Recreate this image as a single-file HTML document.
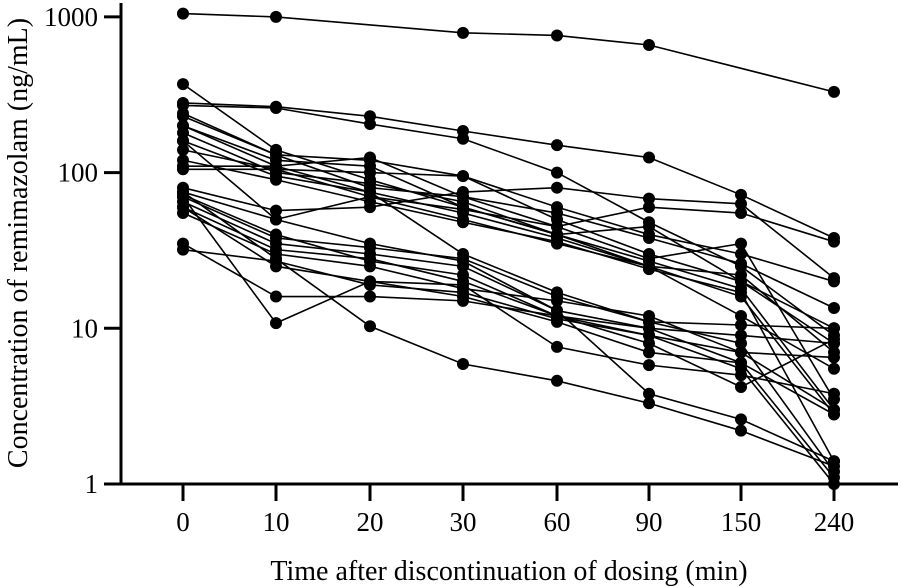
<!DOCTYPE html>
<html><head><meta charset="utf-8">
<style>
html,body{margin:0;padding:0;background:#fff;}
svg{display:block;font-family:"Liberation Serif",serif;}
</style></head>
<body>
<svg id="chart" width="901" height="587" viewBox="0 0 901 587">
  <g id="series"></g>
  <g id="axes"></g>
</svg>
<script>
const categories = ["0","10","20","30","60","90","150","240"];
const yTicks = [1,10,100,1000];
const yTickLabels = ["1","10","100","1000"];
const subjects = [
[1050,1000,null,790,760,660,null,330],
[280,265,230,185,150,125,72,38],
[270,260,205,165,100,48,25,9],
[370,140,90,60,40,27,18,3],
[230,130,120,95,50,30,20,10],
[200,110,125,70,45,28,35,3.5],
[180,100,85,65,40,45,20,8],
[160,95,75,55,38,25,16,2.8],
[140,105,70,50,35,25,22,7],
[120,90,65,48,36,24,17,1.4],
[110,110,75,30,17,11,8,1.2],
[105,105,100,95,60,40,30,20],
[80,57,60,75,80,68,63,21],
[75,50,70,58,45,60,55,36],
[70,38,33,28,16,11,10.5,10],
[65,35,30,25,13,10,6,1.1],
[60,32,28,20,12,9,5.5,1.0],
[55,30,25,18,15,12,7,3],
[72,40,27,22,12,8,4.2,8.5],
[60,25,20,16,11,7,6,2.8],
[35,16,16,15,12,10,9,8],
[32,27,19,17,11.5,9,7,6.5],
[70,10.8,20,19,7.6,5.8,5,3.8],
[75,28,10.3,5.9,4.6,3.3,2.2,1.3],
[160,50,35,27,13,3.8,2.6,1.4],
[200,120,110,60,40,25,12,5.5],
[240,130,80,70,55,38,26,13.5]
];
const NS="http://www.w3.org/2000/svg";
const xPos=[183,276,370,463,557,649,741,834];
function xScale(i){return xPos[i];}
function yScale(v){return 484-(Math.log10(v))*155.7;}
function mk(tag,attrs,parent){const e=document.createElementNS(NS,tag);for(const k in attrs)e.setAttribute(k,attrs[k]);parent.appendChild(e);return e;}
const sg=document.getElementById('series');
subjects.forEach((s,si)=>{
  const g=mk('g',{},sg);
  
  
  const pts=[];
  s.forEach((v,i)=>{if(v!=null)pts.push([xScale(i),yScale(v)]);});
  const pl=mk('polyline',{points:pts.map(p=>p.join(',')).join(' '),fill:'none',stroke:'#000','stroke-width':1.6},g);
  
  
  pts.forEach(p=>{
    const c=mk('circle',{cx:p[0],cy:p[1],r:6,fill:'#000'},g);
    
    
  });
});
const ax=document.getElementById('axes');
const ya=mk('line',{x1:121,y1:3,x2:121,y2:485.5,stroke:'#000','stroke-width':3},ax);


const xa=mk('line',{x1:104,y1:484,x2:898,y2:484,stroke:'#000','stroke-width':3},ax);


yTicks.forEach((t,i)=>{
  const y=yScale(t);
  const l=mk('line',{x1:104,y1:y,x2:121,y2:y,stroke:'#000','stroke-width':3},ax);
  
  
  const tx=mk('text',{x:98,y:y+9,'text-anchor':'end','font-size':27},ax);
  tx.textContent=yTickLabels[i];
  
  
});
categories.forEach((c,i)=>{
  const x=xScale(i);
  const l=mk('line',{x1:x,y1:484,x2:x,y2:501,stroke:'#000','stroke-width':3},ax);
  
  
  const tx=mk('text',{x:x,y:531,'text-anchor':'middle','font-size':27},ax);
  tx.textContent=c;
  
  
});
const xt=mk('text',{x:509,y:580,'text-anchor':'middle','font-size':28},ax);
xt.textContent='Time after discontinuation of dosing (min)';


const yt=mk('text',{x:0,y:0,'text-anchor':'middle','font-size':28,transform:'translate(27,243) rotate(-90)'},ax);
yt.textContent='Concentration of remimazolam (ng/mL)';


</script>
</body></html>
